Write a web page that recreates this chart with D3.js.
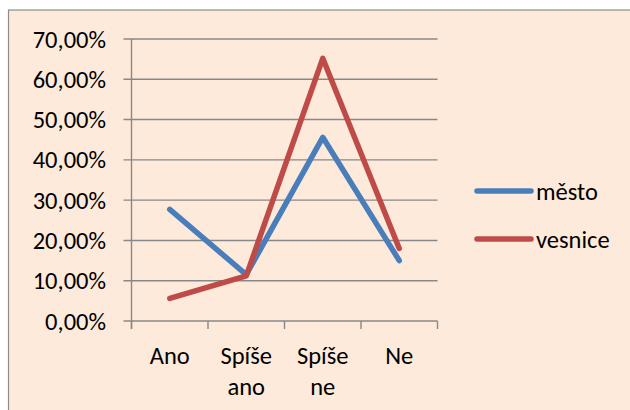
<!DOCTYPE html>
<html>
<head>
<meta charset="utf-8">
<script src="https://cdn.jsdelivr.net/npm/d3@7"></script>
<style>
  body { margin: 0; background: #fff; }
  text { font-family: Carlito, Calibri, Lato, sans-serif; fill: #000; }
</style>
</head>
<body>
<div id="chart"></div>
<script>
// chart data
var categories = [["Ano"], ["Spíše", "ano"], ["Spíše", "ne"], ["Ne"]];
var mesto = [0.277, 0.115, 0.456, 0.150];
var vesnice = [0.056, 0.112, 0.652, 0.180];
var seriesNames = ["město", "vesnice"];
var seriesColors = ["#4a7ebb", "#be4b48"];
var yTicks = [0, 0.1, 0.2, 0.3, 0.4, 0.5, 0.6, 0.7];

var W = 630, H = 410, FS = "24.5px";
var svg = d3.select("#chart").append("svg")
  .attr("width", W).attr("height", H);

// chart area background + border
svg.append("rect")
  .attr("x", 8.5).attr("y", 10)
  .attr("width", W).attr("height", H)
  .attr("fill", "#fdeada")
  .attr("stroke", "#8c8c8c").attr("stroke-width", 1.2);

var plot = {left: 131.5, right: 437.5, top: 39, bottom: 321};

var x = d3.scaleBand()
  .domain(d3.range(categories.length))
  .range([plot.left, plot.right]);
var y = d3.scaleLinear().domain([0, 0.7]).range([plot.bottom, plot.top]);

var fmt = function(v) { return (v * 100).toFixed(2).replace(".", ",") + "%"; };

// gridlines
svg.append("g").selectAll("line.grid")
  .data(yTicks)
  .enter().append("line")
  .attr("x1", plot.left - 8).attr("x2", plot.right)
  .attr("y1", function(d) { return y(d); })
  .attr("y2", function(d) { return y(d); })
  .attr("stroke", "#888").attr("stroke-width", 1.4);

// y axis line
svg.append("line")
  .attr("x1", plot.left).attr("x2", plot.left)
  .attr("y1", plot.top).attr("y2", plot.bottom + 8)
  .attr("stroke", "#888").attr("stroke-width", 1.4);

// x tick marks
var xEdges = d3.range(categories.length + 1).map(function(i) {
  return i < categories.length ? x(i) : x(i - 1) + x.bandwidth();
});
svg.append("g").selectAll("line")
  .data(xEdges)
  .enter().append("line")
  .attr("x1", function(d) { return d; }).attr("x2", function(d) { return d; })
  .attr("y1", plot.bottom).attr("y2", plot.bottom + 8)
  .attr("stroke", "#888").attr("stroke-width", 1.4);

// y labels
svg.append("g").selectAll("text")
  .data(yTicks)
  .enter().append("text")
  .attr("x", 106)
  .attr("y", function(d) { return y(d); })
  .attr("dy", "0.35em")
  .attr("text-anchor", "end")
  .style("font-size", FS)
  .text(fmt);

// x labels
var xl = svg.append("g").selectAll("text")
  .data(categories)
  .enter().append("text")
  .attr("text-anchor", "middle")
  .style("font-size", FS)
  .attr("x", function(d, i) { return x(i) + x.bandwidth() / 2; })
  .attr("y", 364);
xl.selectAll("tspan")
  .data(function(d, i) { return d.map(function(s) { return {s: s, i: i}; }); })
  .enter().append("tspan")
  .attr("x", function(d) { return x(d.i) + x.bandwidth() / 2; })
  .attr("dy", function(d, j) { return j === 0 ? 0 : 31; })
  .text(function(d) { return d.s; });

// lines
var line = d3.line()
  .x(function(d, i) { return x(i) + x.bandwidth() / 2; })
  .y(function(d) { return y(d); });

[mesto, vesnice].forEach(function(s, k) {
  svg.append("path")
    .datum(s)
    .attr("d", line)
    .attr("fill", "none")
    .attr("stroke", seriesColors[k])
    .attr("stroke-width", 5.5)
    .attr("stroke-linejoin", "round")
    .attr("stroke-linecap", "round");
});

// legend
var lg = svg.append("g").selectAll("g")
  .data(seriesNames)
  .enter().append("g")
  .attr("transform", function(d, i) { return "translate(0," + (191 + i * 48) + ")"; });
lg.append("line")
  .attr("x1", 477).attr("x2", 531)
  .attr("stroke", function(d, i) { return seriesColors[i]; })
  .attr("stroke-width", 5.5)
  .attr("stroke-linecap", "round");
lg.append("text")
  .attr("x", 536).attr("dy", "0.35em")
  .style("font-size", FS)
  .text(function(d) { return d; });
</script>
</body>
</html>
